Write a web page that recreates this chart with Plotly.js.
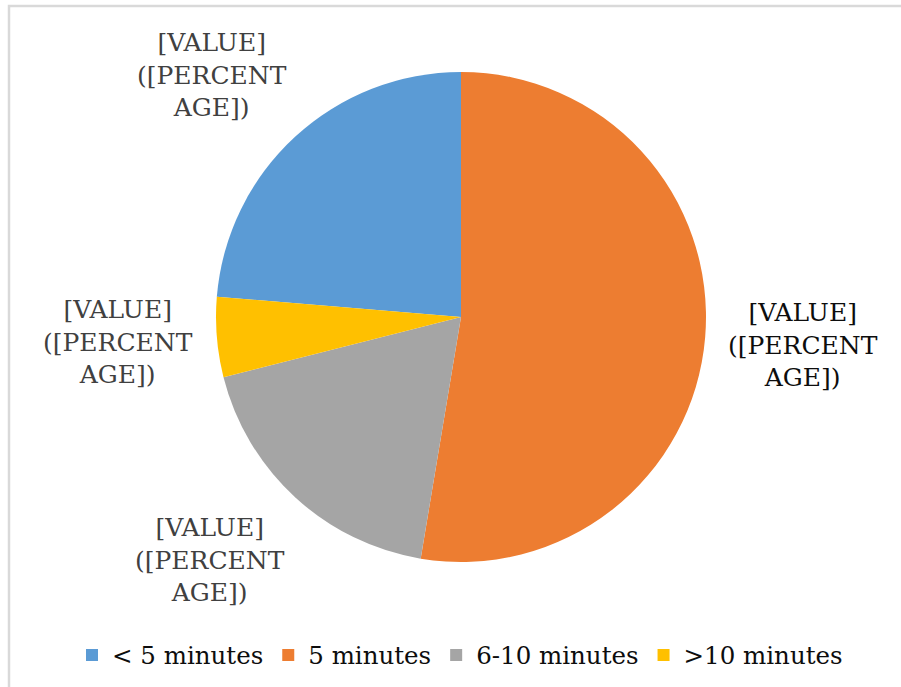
<!DOCTYPE html>
<html>
<head>
<meta charset="utf-8">
<script src="https://cdn.plot.ly/plotly-3.0.1.min.js"></script>
<style>html,body{margin:0;padding:0;background:#fff;}#chart{width:901px;height:687px;}</style>
</head>
<body>
<div id="chart"></div>
<script>
// Data
const categories = ['< 5 minutes', '5 minutes', '6-10 minutes', '>10 minutes'];
const values = [9, 20, 7, 2];
const labelTexts = ['[VALUE]<br>([PERCENT<br>AGE])', '[VALUE]<br>([PERCENT<br>AGE])', '[VALUE]<br>([PERCENT<br>AGE])', '[VALUE]<br>([PERCENT<br>AGE])'];

const colors = ['#5b9bd5', '#ed7d31', '#a5a5a5', '#ffc000'];
const W = 901, H = 687;
const px = x => x / W;
const py = y => 1 - y / H;
const FONT = 'DejaVu Serif';

const total = values.reduce((a, b) => a + b, 0);

const labelPos = [[212, 75], [803, 345], [210, 560], [118, 342]];
const labelColors = ['#404040', '#0d0d0d', '#404040', '#404040'];

const trace = {
  type: 'pie',
  labels: categories,
  values: values,
  sort: false,
  direction: 'clockwise',
  rotation: -360 * values[0] / total,
  marker: {colors: colors, line: {width: 0}},
  textinfo: 'none',
  hoverinfo: 'label+value+percent',
  domain: {x: [px(216), px(706)], y: [py(562), py(72)]}
};

const annotations = labelTexts.map((t, i) => ({
  xref: 'paper', yref: 'paper',
  x: px(labelPos[i][0]), y: py(labelPos[i][1]),
  xanchor: 'center', yanchor: 'middle',
  text: t, showarrow: false, align: 'center',
  font: {family: FONT, size: 25, color: labelColors[i]}
}));

const layout = {
  width: W, height: H,
  margin: {l: 0, r: 0, t: 0, b: 0},
  paper_bgcolor: '#ffffff',
  font: {family: FONT},
  showlegend: true,
  legend: {
    orientation: 'h',
    x: px(460), xanchor: 'center',
    y: py(655), yanchor: 'middle',
    font: {family: FONT, size: 24.5, color: '#0d0d0d'},
    traceorder: 'normal'
  },
  annotations: annotations,
  shapes: [{
    type: 'rect', xref: 'paper', yref: 'paper',
    x0: px(9), y0: -0.02, x1: 1.02, y1: py(6),
    line: {color: '#d9d9d9', width: 2.5}, fillcolor: 'rgba(0,0,0,0)', layer: 'below'
  }]
};

Plotly.newPlot('chart', [trace], layout, {displayModeBar: false, staticPlot: true});
</script>
</body>
</html>
